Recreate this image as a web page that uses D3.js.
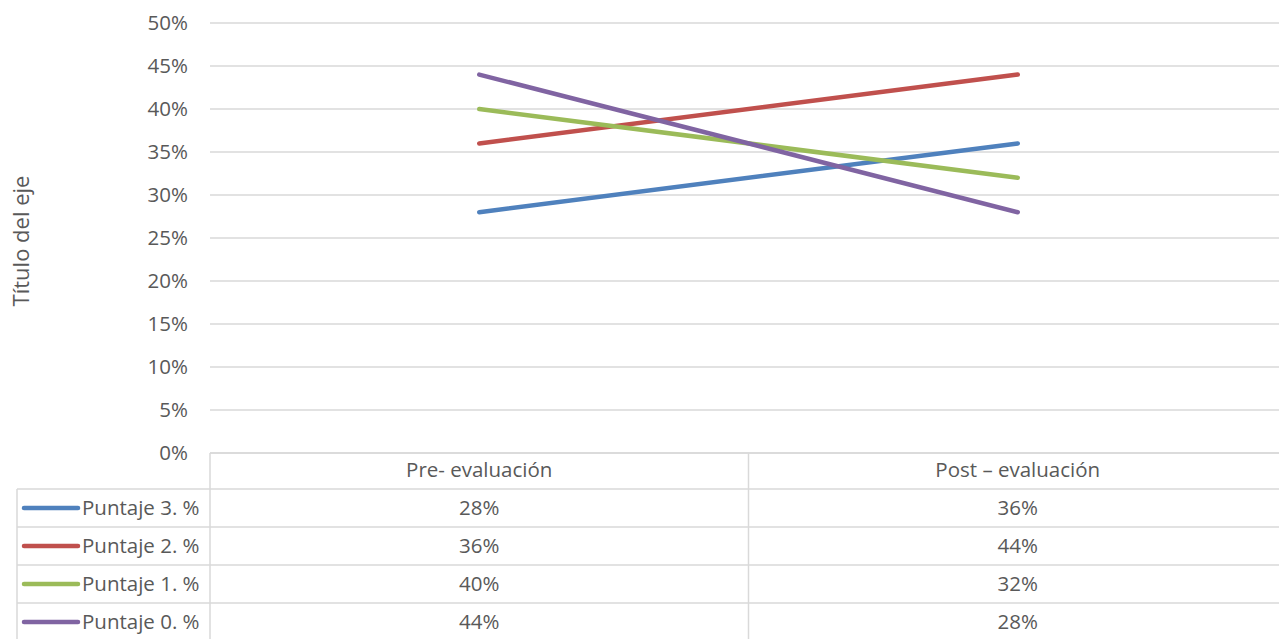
<!DOCTYPE html>
<html>
<head>
<meta charset="utf-8">
<script src="https://cdn.jsdelivr.net/npm/d3@7"></script>
<style>
  body { margin: 0; background: #fff; }
  text { font-family: "Open Sans", sans-serif; fill: #595959; }
</style>
</head>
<body>
<script>
var categories = ["Pre- evaluación", "Post – evaluación"];
var seriesNames = ["Puntaje 3. %", "Puntaje 2. %", "Puntaje 1. %", "Puntaje 0. %"];
var pre = [0.28, 0.36, 0.40, 0.44];
var post = [0.36, 0.44, 0.32, 0.28];
var colors = ["#4f81bd", "#c0504d", "#9bbb59", "#8064a2"];
var yTicks = [0, 0.05, 0.10, 0.15, 0.20, 0.25, 0.30, 0.35, 0.40, 0.45, 0.50];

var width = 1279, height = 639;

var svg = d3.select("body").append("svg")
    .attr("width", width)
    .attr("height", height);

var x = d3.scaleBand().domain(categories).range([210, 1287]);
var y = d3.scaleLinear().domain([0, 0.5]).range([453, 23]);

var fmt = d3.format(".0%");
var grid = "#d9d9d9";
var fs = "20.5px";

// gridlines
svg.selectAll(".grid")
    .data(yTicks)
  .enter().append("line")
    .attr("x1", 210).attr("x2", width)
    .attr("y1", function(d) { return y(d); })
    .attr("y2", function(d) { return y(d); })
    .attr("stroke", grid)
    .attr("stroke-width", 1.5);

// y labels
svg.selectAll(".ylab")
    .data(yTicks)
  .enter().append("text")
    .attr("x", 188)
    .attr("y", function(d) { return y(d); })
    .attr("dy", "0.35em")
    .attr("text-anchor", "end")
    .style("font-size", fs)
    .text(function(d) { return fmt(d); });

// axis title
svg.append("text")
    .attr("transform", "translate(29,241) rotate(-90)")
    .attr("text-anchor", "middle")
    .style("font-size", "22px")
    .text("Título del eje");

// lines
var line = d3.line()
    .x(function(d) { return x(d.c) + x.bandwidth() / 2; })
    .y(function(d) { return y(d.v); });

var series = seriesNames.map(function(name, i) {
  return { name: name, color: colors[i],
           values: [{c: categories[0], v: pre[i]}, {c: categories[1], v: post[i]}] };
});

svg.selectAll(".series")
    .data(series)
  .enter().append("path")
    .attr("d", function(d) { return line(d.values); })
    .attr("fill", "none")
    .attr("stroke", function(d) { return d.color; })
    .attr("stroke-width", 4.5)
    .attr("stroke-linecap", "round");

// data table
var rowTops = [489, 527, 565, 603];
var rowH = 38;

// horizontal rules
svg.append("line")
    .attr("x1", 210).attr("x2", width).attr("y1", 453).attr("y2", 453)
    .attr("stroke", grid).attr("stroke-width", 1.5);
svg.selectAll(".hrule")
    .data(rowTops)
  .enter().append("line")
    .attr("x1", 17).attr("x2", width)
    .attr("y1", function(d) { return d; })
    .attr("y2", function(d) { return d; })
    .attr("stroke", grid).attr("stroke-width", 1.5);

// vertical rules
svg.append("line")
    .attr("x1", 17).attr("x2", 17).attr("y1", 489).attr("y2", height)
    .attr("stroke", grid).attr("stroke-width", 1.5);
svg.selectAll(".vrule")
    .data(categories)
  .enter().append("line")
    .attr("x1", function(d) { return x(d); })
    .attr("x2", function(d) { return x(d); })
    .attr("y1", 453).attr("y2", height)
    .attr("stroke", grid).attr("stroke-width", 1.5);

// header
svg.selectAll(".head")
    .data(categories)
  .enter().append("text")
    .attr("x", function(d) { return x(d) + x.bandwidth() / 2; })
    .attr("y", 470)
    .attr("dy", "0.35em")
    .attr("text-anchor", "middle")
    .style("font-size", fs)
    .text(function(d) { return d; });

var rows = svg.selectAll(".row")
    .data(series)
  .enter().append("g")
    .attr("transform", function(d, i) { return "translate(0," + (rowTops[i] + rowH / 2) + ")"; });

rows.append("line")
    .attr("x1", 24).attr("x2", 78).attr("y1", 0).attr("y2", 0)
    .attr("stroke", function(d) { return d.color; })
    .attr("stroke-width", 4.5)
    .attr("stroke-linecap", "round");

rows.append("text")
    .attr("x", 82)
    .attr("dy", "0.35em")
    .style("font-size", fs)
    .text(function(d) { return d.name; });

rows.selectAll(".cell")
    .data(function(d) { return d.values; })
  .enter().append("text")
    .attr("x", function(d) { return x(d.c) + x.bandwidth() / 2; })
    .attr("dy", "0.35em")
    .attr("text-anchor", "middle")
    .style("font-size", fs)
    .text(function(d) { return fmt(d.v); });
</script>
</body>
</html>
